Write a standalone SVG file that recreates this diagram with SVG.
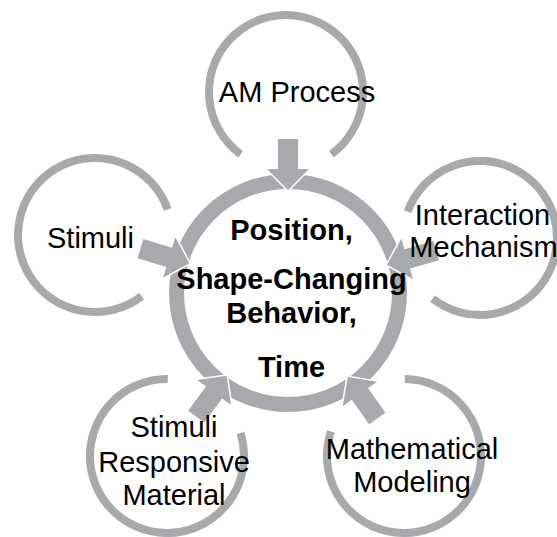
<svg xmlns="http://www.w3.org/2000/svg" width="557" height="537" viewBox="0 0 557 537">
<style>
.arc{fill:none;stroke:#A7A9AC;stroke-width:8}
.ring{fill:none;stroke:#A7A9AC;stroke-width:15}
.arrow{fill:#A7A9AC}
.lbl{font-family:"Liberation Sans",Arial,sans-serif;font-size:29px;fill:#000;text-anchor:middle}
.bold{font-weight:bold}
</style>
<defs>
<mask id="ringcut" maskUnits="userSpaceOnUse" x="0" y="0" width="557" height="537">
<rect x="0" y="0" width="557" height="537" fill="#fff"/>
<g fill="#000" stroke="#000" stroke-width="3" stroke-linejoin="round">
<polygon points="288,190 309,169 267,169"/>
<polygon points="189.35,263.36 175.27,237.20 163.19,277.42"/>
<polygon points="387.02,264.63 412.99,279.04 401.43,238.66"/>
<polygon points="226.60,375.71 197.22,380.05 230.94,405.09"/>
<polygon points="347.72,376.92 342.79,406.22 377.01,381.86"/>
</g>
</mask>
</defs>
<g id="connectors">
<polygon class="arrow" points="288,190 309,169 298,169 298,139 278,139 278,169 267,169"/>
<polygon class="arrow" points="189.35,263.36 175.27,237.20 172.11,247.73 143.38,239.10 137.62,258.26 166.35,266.89 163.19,277.42"/>
<polygon class="arrow" points="387.02,264.63 412.99,279.04 409.96,268.46 438.81,260.20 433.31,240.98 404.46,249.24 401.43,238.66"/>
<polygon class="arrow" points="226.60,375.71 197.22,380.05 206.05,386.61 188.17,410.70 204.23,422.62 222.11,398.53 230.94,405.09"/>
<polygon class="arrow" points="347.72,376.92 342.79,406.22 351.75,399.84 369.14,424.28 385.44,412.68 368.05,388.24 377.01,381.86"/>
</g>
<g id="am-process">
<path class="arc" d="M 240.74 154.29 A 77 77 0 1 1 331.26 154.29"/>
<text class="lbl" x="297" y="102">AM Process</text>
</g>
<g id="stimuli">
<path class="arc" d="M 141.66 296.25 A 77 77 0 1 1 167.67 209.55"/>
<text class="lbl" x="90.5" y="248">Stimuli</text>
</g>
<g id="interaction-mechanism">
<path class="arc" d="M 407.65 211.64 A 77 77 0 1 1 432.59 298.68"/>
<text class="lbl" x="482.5" y="225">Interaction</text>
<text class="lbl" x="483.5" y="257">Mechanism</text>
</g>
<g id="stimuli-responsive-material">
<path class="arc" d="M 240.47 432.96 A 77 77 0 1 1 167.79 379.0"/>
<text class="lbl" x="174" y="437">Stimuli</text>
<text class="lbl" x="174" y="472">Responsive</text>
<text class="lbl" x="174" y="505">Material</text>
</g>
<g id="mathematical-modeling">
<path class="arc" d="M 404.75 379.0 A 77 77 0 1 1 331.0 431.49"/>
<text class="lbl" x="412" y="459">Mathematical</text>
<text class="lbl" x="412" y="492">Modeling</text>
</g>
<g id="center">
<circle class="ring" cx="288" cy="293" r="111.5" mask="url(#ringcut)"/>
<text class="lbl bold" x="291.5" y="240">Position,</text>
<text class="lbl bold" x="291.5" y="289">Shape-Changing</text>
<text class="lbl bold" x="291.5" y="323">Behavior,</text>
<text class="lbl bold" x="291.5" y="377">Time</text>
</g>
</svg>
